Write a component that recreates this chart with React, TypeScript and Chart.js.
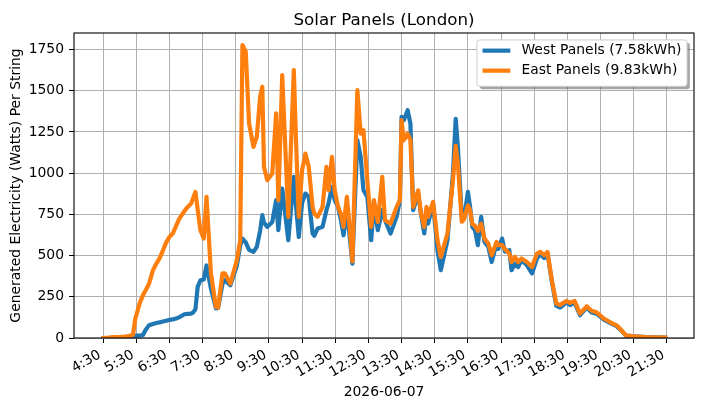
import React, { useEffect, useRef } from "react";
import { Chart, registerables } from "chart.js";

Chart.register(...registerables);

// ---- data ----
const times = [
  "4:27", "4:40", "4:50", "5:00", "5:10", "5:15", "5:20", "5:24", "5:28", "5:36",
  "5:42", "5:47", "5:53", "6:00", "6:06", "6:12", "6:18", "6:24", "6:30", "6:36",
  "6:42", "6:48", "6:57", "7:03", "7:09", "7:13", "7:17", "7:21", "7:26", "7:32",
  "7:37", "7:45", "7:54", "7:58", "8:06", "8:10", "8:20", "8:32", "8:38", "8:42",
  "8:48", "8:54", "9:02", "9:08", "9:14", "9:18", "9:21", "9:27", "9:36", "9:43",
  "9:47", "9:54", "10:05", "10:15", "10:19", "10:24", "10:30", "10:36", "10:42", "10:49",
  "10:52", "10:58", "11:07", "11:14", "11:18", "11:24", "11:29", "11:35", "11:40", "11:45",
  "11:51", "11:56", "12:01", "12:10", "12:16", "12:21", "12:28", "12:35", "12:40", "12:47",
  "12:55", "13:00", "13:10", "13:21", "13:27", "13:30", "13:34", "13:41", "13:46", "13:51",
  "14:00", "14:05", "14:11", "14:15", "14:18", "14:27", "14:35", "14:41", "14:53", "15:03",
  "15:08", "15:12", "15:19", "15:23", "15:30", "15:34", "15:38", "15:43", "15:48", "15:54",
  "16:00", "16:07", "16:13", "16:22", "16:25", "16:32", "16:37", "16:45", "16:49", "16:55",
  "17:01", "17:07", "17:17", "17:26", "17:35", "17:41", "17:48", "17:54", "18:02", "18:10",
  "18:17", "18:28", "18:35", "18:43", "18:53", "19:05", "19:14", "19:23", "19:36", "19:47",
  "19:59", "20:08", "20:16", "20:30", "20:53", "21:31",
];

const westWatts = [
  0, 0, 1, 2, 2, 3, 8, 15, 15, 15,
  18, 50, 77, 85, 91, 95, 100, 105, 110, 113,
  118, 127, 144, 146, 148, 155, 175, 310, 350, 355,
  440, 300, 180, 182, 330, 350, 320, 440, 560, 603,
  580, 535, 522, 553, 650, 745, 700, 674, 704, 836,
  654, 907, 593, 977, 800, 613, 820, 876, 856, 634,
  620, 664, 674, 775, 820, 917, 836, 795, 720, 623,
  775, 620, 451, 1200, 1099, 896, 856, 593, 815, 654,
  775, 714, 634, 735, 836, 1341, 1321, 1382, 1301, 775,
  876, 755, 634, 755, 694, 816, 532, 411, 593, 998,
  1330, 1150, 735, 725, 886, 795, 674, 653, 563, 735,
  583, 553, 461, 573, 540, 603, 524, 533, 411, 451,
  430, 472, 441, 391, 482, 510, 485, 515, 340, 195,
  185, 215, 200, 215, 138, 185, 155, 148, 112, 92,
  72, 45, 14, 10, 5, 2,
];

const eastWatts = [
  0, 2, 5, 6, 8, 12, 15, 20, 115, 210,
  260, 290, 330, 410, 450, 483, 530, 580, 613, 635,
  680, 725, 770, 795, 815, 850, 886, 780, 654, 603,
  856, 392, 188, 185, 392, 392, 330, 472, 593, 1777,
  1736, 1301, 1159, 1220, 1463, 1524, 1038, 957, 998, 1362,
  836, 1595, 735, 1625, 1200, 735, 1018, 1119, 1038, 795,
  755, 735, 795, 1038, 896, 1099, 896, 795, 755, 674,
  856, 674, 465, 1504, 1240, 1261, 957, 674, 836, 704,
  977, 714, 694, 795, 836, 1321, 1200, 1240, 1200, 795,
  896, 755, 674, 795, 735, 826, 593, 492, 633, 957,
  1165, 1050, 705, 720, 805, 775, 690, 680, 650, 694,
  603, 573, 502, 583, 563, 563, 540, 512, 461, 492,
  461, 482, 461, 431, 512, 522, 502, 522, 350, 209,
  200, 225, 213, 225, 148, 192, 165, 156, 118, 97,
  77, 47, 16, 10, 6, 3,
];

const seriesLabels = ["West Panels (7.58kWh)", "East Panels (9.83kWh)"];
const seriesColors = ["#1f77b4", "#ff7f0e"];
const xTickLabels = [
  "4:30", "5:30", "6:30", "7:30", "8:30", "9:30", "10:30", "11:30", "12:30",
  "13:30", "14:30", "15:30", "16:30", "17:30", "18:30", "19:30", "20:30", "21:30",
];
const yTickValues = [0, 250, 500, 750, 1000, 1250, 1500, 1750];
const chartTitle = "Solar Panels (London)";
const xAxisTitle = "2026-06-07";
const yAxisTitle = "Generated Electricity (Watts) Per String";

// axis limits
const X_MIN = 3.62;
const X_MAX = 22.32;
const Y_MIN = 0;
const Y_MAX = 1850;

const FONT = '"DejaVu Sans", sans-serif';

function toHours(s: string): number {
  const [h, m] = s.split(":").map(Number);
  return h + m / 60;
}
const xTickValues = xTickLabels.map(toHours);

function roundRect(ctx: CanvasRenderingContext2D, x: number, y: number, w: number, h: number, r: number) {
  ctx.beginPath();
  ctx.moveTo(x + r, y);
  ctx.lineTo(x + w - r, y);
  ctx.quadraticCurveTo(x + w, y, x + w, y + r);
  ctx.lineTo(x + w, y + h - r);
  ctx.quadraticCurveTo(x + w, y + h, x + w - r, y + h);
  ctx.lineTo(x + r, y + h);
  ctx.quadraticCurveTo(x, y + h, x, y + h - r);
  ctx.lineTo(x, y + r);
  ctx.quadraticCurveTo(x, y, x + r, y);
  ctx.closePath();
}

const decorPlugin = {
  id: "decor",
  afterDatasetsDraw(chart: any) {
    const { ctx, chartArea: a } = chart;
    const xs = chart.scales.x;
    ctx.save();

    // frame (spines)
    ctx.strokeStyle = "#000";
    ctx.lineWidth = 1.1;
    ctx.strokeRect(a.left, a.top, a.right - a.left, a.bottom - a.top);

    // title
    ctx.fillStyle = "#000";
    ctx.font = `16.7px ${FONT}`;
    ctx.textAlign = "center";
    ctx.textBaseline = "alphabetic";
    ctx.fillText(chartTitle, (a.left + a.right) / 2, a.top - 8.3);

    // x tick labels, rotated 30deg, right-aligned at tick (matplotlib style)
    ctx.font = `13.9px ${FONT}`;
    const h = 13.6;
    const descent = 3.0;
    xTickValues.forEach((v, i) => {
      const px = xs.getPixelForValue(v);
      ctx.save();
      ctx.translate(px, a.bottom + 4.9 + 4.9 + 0.866 * h);
      ctx.rotate(-Math.PI / 6);
      ctx.textAlign = "right";
      ctx.textBaseline = "alphabetic";
      ctx.fillText(xTickLabels[i], 0, -descent);
      ctx.restore();
    });

    // x axis title
    ctx.textAlign = "center";
    ctx.textBaseline = "alphabetic";
    ctx.fillText(xAxisTitle, (a.left + a.right) / 2, 396);

    // y axis title
    ctx.save();
    ctx.translate(20, (a.top + a.bottom) / 2);
    ctx.rotate(-Math.PI / 2);
    ctx.textAlign = "center";
    ctx.fillText(yAxisTitle, 0, 0);
    ctx.restore();

    // legend
    const fs = 13.9;
    ctx.font = `${fs}px ${FONT}`;
    const textW = Math.max(...chart.data.datasets.map((d: any) => ctx.measureText(d.label).width));
    const pad = 0.4 * fs;
    const handleLen = 2 * fs;
    const handlePad = 0.8 * fs;
    const boxW = pad * 2 + handleLen + handlePad + textW;
    const boxH = 46.4;
    const bx = a.right - 0.5 * fs - boxW;
    const by = a.top + 0.5 * fs;
    // shadow
    roundRect(ctx, bx + 2.8, by + 2.8, boxW, boxH, 2.8);
    ctx.fillStyle = "rgba(77,77,77,0.5)";
    ctx.fill();
    // frame
    roundRect(ctx, bx, by, boxW, boxH, 2.8);
    ctx.fillStyle = "#ffffff";
    ctx.fill();
    ctx.strokeStyle = "#cccccc";
    ctx.lineWidth = 1;
    ctx.stroke();
    chart.data.datasets.forEach((d: any, i: number) => {
      const ry = by + 10.7 + i * 20;
      ctx.strokeStyle = d.borderColor;
      ctx.lineWidth = 4.2;
      ctx.lineCap = "butt";
      ctx.beginPath();
      ctx.moveTo(bx + pad, ry);
      ctx.lineTo(bx + pad + handleLen, ry);
      ctx.stroke();
      ctx.fillStyle = "#000";
      ctx.textAlign = "left";
      ctx.textBaseline = "alphabetic";
      ctx.fillText(d.label, bx + pad + handleLen + handlePad, ry + 3.8);
    });

    ctx.restore();
  },
};

export default function App() {
  const canvasRef = useRef<HTMLCanvasElement | null>(null);

  useEffect(() => {
    const canvas = canvasRef.current;
    if (!canvas) return;
    const xsVals = times.map(toHours);
    const chart = new Chart(canvas, {
      type: "line",
      data: {
        datasets: [
          {
            label: seriesLabels[0],
            data: xsVals.map((x, i) => ({ x, y: westWatts[i] })),
            borderColor: seriesColors[0],
            backgroundColor: seriesColors[0],
            borderWidth: 4.2,
            pointRadius: 0,
            tension: 0,
            fill: false,
            borderJoinStyle: "round",
            order: 1,
          },
          {
            label: seriesLabels[1],
            data: xsVals.map((x, i) => ({ x, y: eastWatts[i] })),
            borderColor: seriesColors[1],
            backgroundColor: seriesColors[1],
            borderWidth: 4.2,
            pointRadius: 0,
            tension: 0,
            fill: false,
            borderJoinStyle: "round",
            order: 0,
          },
        ],
      },
      options: {
        responsive: false,
        animation: false,
        devicePixelRatio: 1,
        layout: { padding: { top: 33, right: 10, left: 0, bottom: 0 } },
        plugins: {
          legend: { display: false },
          tooltip: { enabled: false },
          title: { display: false },
        },
        scales: {
          x: {
            type: "linear",
            min: X_MIN,
            max: X_MAX,
            afterBuildTicks: (s: any) => {
              s.ticks = xTickValues.map((v) => ({ value: v }));
            },
            afterFit: (s: any) => {
              s.height = 71;
            },
            ticks: { display: false },
            grid: {
              color: "#b0b0b0",
              lineWidth: 1,
              drawTicks: true,
              tickLength: 5,
              tickColor: "#000",
              tickWidth: 1,
            },
            border: { display: false },
          },
          y: {
            type: "linear",
            min: Y_MIN,
            max: Y_MAX,
            afterBuildTicks: (s: any) => {
              s.ticks = yTickValues.map((v) => ({ value: v }));
            },
            afterFit: (s: any) => {
              s.width = 74;
            },
            ticks: {
              color: "#000",
              padding: 5,
              font: { family: FONT, size: 13.9 },
              callback: (v: any) => String(v),
            },
            grid: {
              color: "#b0b0b0",
              lineWidth: 1,
              drawTicks: true,
              tickLength: 5,
              tickColor: "#000",
              tickWidth: 1,
            },
            border: { display: false },
          },
        },
      },
      plugins: [decorPlugin],
    });
    return () => chart.destroy();
  }, []);

  return (
    <div style={{ position: "fixed", left: 0, top: 0, width: 704, height: 409, background: "#fff" }}>
      <canvas ref={canvasRef} width={704} height={409} style={{ display: "block", width: 704, height: 409 }} />
    </div>
  );
}
